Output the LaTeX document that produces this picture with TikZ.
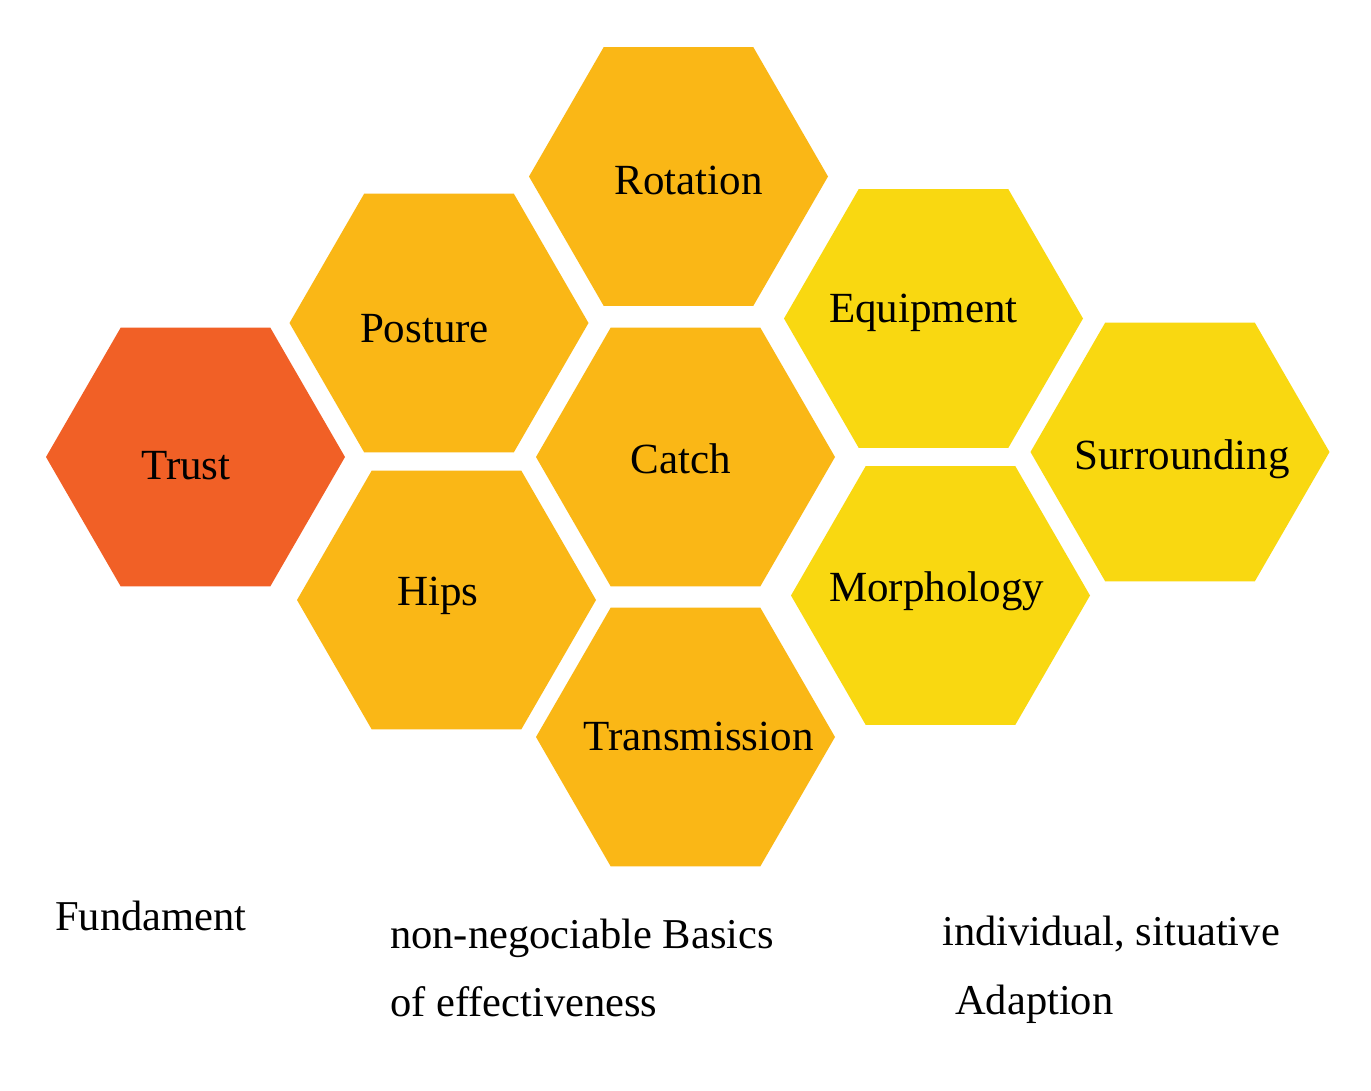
\documentclass[tikz,border=0pt]{standalone}
\usepackage{fontspec}
\setmainfont{Liberation Serif}
\usetikzlibrary{shapes.geometric}
\definecolor{trustred}{HTML}{F16026}
\definecolor{basicorange}{HTML}{FAB716}
\definecolor{adaptyellow}{HTML}{F9D811}
\tikzset{
  hexcell/.style={regular polygon, regular polygon sides=6, minimum size=299pt, inner sep=0pt, draw=none},
  hexlabel/.style={anchor=base, inner sep=0pt, font=\fontsize{43}{50}\selectfont, text=black},
  bottomlabel/.style={anchor=base west, inner sep=0pt, font=\fontsize{42.5}{50}\selectfont, text=black}
}
\begin{document}
\begin{tikzpicture}[x=1pt,y=-1pt]
\useasboundingbox (0,0) rectangle (1371,1090);
\fill[white] (0,0) rectangle (1371,1090);
% hexagons
\node[hexcell, fill=trustred]    (trust)  at (195.5,457) {};
\node[hexcell, fill=basicorange] (posture) at (439,323) {};
\node[hexcell, fill=basicorange] (rotation) at (678.5,176.5) {};
\node[hexcell, fill=basicorange] (catch) at (685.5,457) {};
\node[hexcell, fill=basicorange] (hips) at (446.5,600) {};
\node[hexcell, fill=basicorange] (transmission) at (685.5,737) {};
\node[hexcell, fill=adaptyellow] (equipment) at (933.5,318.5) {};
\node[hexcell, fill=adaptyellow] (morphology) at (940.5,595.5) {};
\node[hexcell, fill=adaptyellow] (surrounding) at (1180,452) {};
% labels
\node[hexlabel] (tTrust) at (186,479) {Trust};
\node[hexlabel] (tPosture) at (424.5,342) {Posture};
\node[hexlabel] (tRotation) at (688.5,194.5) {Rotation};
\node[hexlabel] (tCatch) at (681,473) {Catch};
\node[hexlabel] (tHips) at (438,605) {Hips};
\node[hexlabel] (tTransmission) at (698.5,750) {Transmission};
\node[hexlabel] (tEquipment) at (923.5,322) {Equipment};
\node[hexlabel] (tMorphology) at (936.5,601) {Morphology};
\node[hexlabel] (tSurrounding) at (1182,469) {Surrounding};
% bottom captions
\node[bottomlabel] (fund) at (55,930) {Fundament};
\node[bottomlabel] (basics1) at (390,948) {non-negociable Basics};
\node[bottomlabel] (basics2) at (390,1016) {of effectiveness};
\node[bottomlabel] (adapt1) at (942,945) {individual, situative};
\node[bottomlabel] (adapt2) at (955,1014) {Adaption};
\end{tikzpicture}
\end{document}
